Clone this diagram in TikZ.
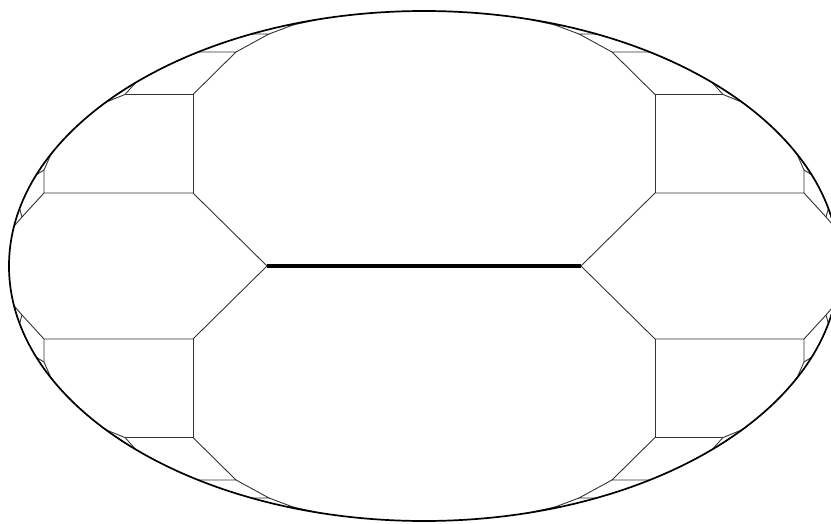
\documentclass[tikz,border=0pt]{standalone}
\begin{document}
\begin{tikzpicture}[x=1pt,y=1pt,
  rim/.style={line width=1.7pt,black},
  seg/.style={line width=0.9pt,black!80},
  spine/.style={line width=3.4pt,black}]
\useasboundingbox (-424,-257) rectangle (407,266);
\clip (-424,-257) rectangle (407,266);
\coordinate (O) at (0,0);
\coordinate (L) at (-157,0);
\coordinate (R) at (157,0);
\foreach \sx in {1,-1}{\foreach \sy in {1,-1}{
\begin{scope}[xscale=\sx,yscale=\sy]
 \coordinate (A) at (-157,0);
 \coordinate (B) at (-231,73);
 \coordinate (C) at (-231,171.5);
 \coordinate (D) at (-380,73);
 \coordinate (E) at (-188,214);
 \coordinate (F) at (-155,232);
 \coordinate (F2) at (-131,241);
 \coordinate (F3) at (104.8:415pt and 255pt);
 \coordinate (G) at (-299,171.5);
 \coordinate (H) at (-226,214);
 \coordinate (I) at (-172,232);
 \coordinate (I2) at (-135.6,241);
 \coordinate (J) at (-380,96);
 \coordinate (K) at (-402,49);
 \coordinate (g1) at (134:415pt and 255pt);
 \coordinate (g2) at (140:415pt and 255pt);
 \coordinate (j1) at (154:415pt and 255pt);
 \coordinate (j2) at (159:415pt and 255pt);
 \coordinate (k1) at (167:415pt and 255pt);
 \coordinate (k2) at (171:415pt and 255pt);
 \draw[seg] (A) -- (B) -- (D) -- (J);
 \draw[seg] (B) -- (C) -- (G);
 \draw[seg] (C) -- (E) -- (H);
 \draw[seg] (E) -- (F) -- (I);
 \draw[seg] (F) -- (F2) -- (I2);
 \draw[seg] (F2) -- (F3);
 \draw[seg] (D) -- (K);
 \draw[seg] (g1) -- (G) -- (g2);
 \draw[seg] (j1) -- (J) -- (j2);
 \draw[seg] (k1) -- (K) -- (k2);
\end{scope}}}
\draw[rim] (O) ellipse [x radius=415pt, y radius=255pt];
\draw[spine] (L) -- (R);
\end{tikzpicture}
\end{document}
